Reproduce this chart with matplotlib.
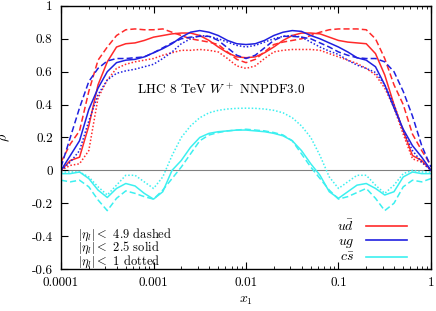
import numpy as np
import matplotlib
matplotlib.use("Agg")
import matplotlib.pyplot as plt
from matplotlib.lines import Line2D

plt.rcParams['font.family'] = 'serif'
plt.rcParams['font.serif'] = ['cmr10']
plt.rcParams['mathtext.fontset'] = 'cm'
plt.rcParams['axes.formatter.use_mathtext'] = True

# log10(x1) grid the values were read at
logx = [-4.0, -3.9, -3.8, -3.7, -3.6, -3.5, -3.4, -3.3, -3.2, -3.1, -3.0,
        -2.9, -2.8, -2.7, -2.6, -2.5, -2.4, -2.3, -2.2, -2.1, -2.0,
        -1.9, -1.8, -1.7, -1.6, -1.5, -1.4, -1.3, -1.2, -1.1, -1.0,
        -0.9, -0.8, -0.7, -0.6, -0.5, -0.4, -0.3, -0.2, -0.1, 0.0]

# u dbar
ud_dashed = [0.05, 0.16, 0.24, 0.48, 0.67, 0.75, 0.82, 0.855, 0.86, 0.855, 0.855,
             0.86, 0.84, 0.82, 0.80, 0.79, 0.78, 0.765, 0.72, 0.675, 0.655,
             0.675, 0.72, 0.765, 0.78, 0.79, 0.80, 0.82, 0.84, 0.855, 0.86,
             0.86, 0.86, 0.855, 0.80, 0.68, 0.52, 0.40, 0.22, 0.12, 0.03]
ud_solid = [0.0, 0.06, 0.08, 0.27, 0.52, 0.66, 0.75, 0.77, 0.775, 0.79, 0.81,
            0.82, 0.83, 0.835, 0.835, 0.82, 0.79, 0.75, 0.715, 0.69, 0.685,
            0.69, 0.715, 0.75, 0.79, 0.82, 0.835, 0.835, 0.83, 0.81, 0.79,
            0.78, 0.775, 0.77, 0.71, 0.58, 0.40, 0.24, 0.09, 0.06, 0.0]
ud_dotted = [0.0, 0.03, 0.04, 0.12, 0.44, 0.55, 0.62, 0.645, 0.66, 0.67, 0.68,
             0.70, 0.715, 0.73, 0.73, 0.735, 0.73, 0.72, 0.68, 0.635, 0.62,
             0.635, 0.68, 0.72, 0.73, 0.735, 0.735, 0.735, 0.73, 0.71, 0.69,
             0.67, 0.65, 0.62, 0.58, 0.50, 0.38, 0.22, 0.07, 0.05, 0.0]

# u g
ug_dashed = [0.02, 0.20, 0.38, 0.54, 0.62, 0.665, 0.68, 0.68, 0.685, 0.69, 0.715,
             0.745, 0.775, 0.80, 0.81, 0.815, 0.815, 0.79, 0.745, 0.70, 0.68,
             0.70, 0.745, 0.79, 0.815, 0.815, 0.81, 0.80, 0.775, 0.75, 0.72,
             0.70, 0.685, 0.68, 0.68, 0.66, 0.60, 0.48, 0.33, 0.15, 0.02]
ug_solid = [0.0, 0.09, 0.18, 0.37, 0.50, 0.60, 0.655, 0.67, 0.675, 0.69, 0.715,
            0.74, 0.77, 0.81, 0.84, 0.85, 0.84, 0.82, 0.79, 0.77, 0.765,
            0.77, 0.79, 0.82, 0.84, 0.85, 0.845, 0.82, 0.80, 0.775, 0.75,
            0.72, 0.685, 0.67, 0.63, 0.52, 0.38, 0.25, 0.15, 0.08, 0.0]
ug_dotted = [0.0, 0.05, 0.12, 0.30, 0.46, 0.55, 0.59, 0.605, 0.615, 0.63, 0.645,
             0.68, 0.72, 0.77, 0.80, 0.82, 0.815, 0.80, 0.78, 0.76, 0.75,
             0.76, 0.78, 0.80, 0.815, 0.82, 0.81, 0.78, 0.75, 0.725, 0.705,
             0.67, 0.64, 0.62, 0.595, 0.52, 0.40, 0.24, 0.12, 0.05, 0.0]

# c sbar
cs_dashed = [-0.06, -0.07, -0.06, -0.10, -0.18, -0.245, -0.17, -0.125, -0.14, -0.16, -0.175,
             -0.12, -0.05, 0.02, 0.10, 0.18, 0.215, 0.23, 0.24, 0.245, 0.25,
             0.245, 0.24, 0.23, 0.215, 0.18, 0.10, 0.02, -0.05, -0.12, -0.175,
             -0.16, -0.135, -0.11, -0.17, -0.245, -0.20, -0.10, -0.06, -0.07, -0.05]
cs_solid = [-0.02, -0.02, -0.01, -0.05, -0.12, -0.165, -0.11, -0.08, -0.095, -0.14, -0.175,
            -0.13, 0.0, 0.06, 0.14, 0.20, 0.225, 0.235, 0.24, 0.245, 0.245,
            0.24, 0.235, 0.225, 0.21, 0.18, 0.12, 0.04, -0.03, -0.13, -0.17,
            -0.13, -0.09, -0.08, -0.11, -0.15, -0.13, -0.04, -0.01, -0.02, -0.02]
cs_dotted = [-0.01, -0.01, -0.01, -0.04, -0.10, -0.15, -0.09, -0.03, -0.03, -0.07, -0.11,
             -0.04, 0.09, 0.20, 0.27, 0.32, 0.35, 0.365, 0.373, 0.377, 0.378,
             0.377, 0.373, 0.365, 0.35, 0.32, 0.27, 0.20, 0.09, -0.04, -0.11,
             -0.07, -0.03, -0.03, -0.09, -0.14, -0.09, -0.02, 0.0, -0.01, -0.01]

x_ticks = [0.0001, 0.001, 0.01, 0.1, 1]
x_labels = ['0.0001', '0.001', '0.01', '0.1', '1']
y_ticks = [-0.6, -0.4, -0.2, 0, 0.2, 0.4, 0.6, 0.8, 1]
y_labels = ['-0.6', '-0.4', '-0.2', '0', '0.2', '0.4', '0.6', '0.8', '1']

red = '#ff2a2a'
blue = '#2020e0'
cyan = '#3cf0f0'
dash = (0, (4, 2))
dot = (0, (1, 1.3))

x = 10 ** np.array(logx)

fig = plt.figure(figsize=(4.36, 3.11), dpi=100)
ax = fig.add_axes([0.140, 0.135, 0.8485, 0.846])

ax.axhline(0, color='#808080', lw=0.8, zorder=1)

series = [
    (ud_dashed, red, dash), (ud_solid, red, '-'), (ud_dotted, red, dot),
    (ug_dashed, blue, dash), (ug_solid, blue, '-'), (ug_dotted, blue, dot),
    (cs_dashed, cyan, dash), (cs_solid, cyan, '-'), (cs_dotted, cyan, dot),
]
for vals, col, ls in series:
    ax.plot(x, vals, color=col, ls=ls, lw=1.1, zorder=2)

ax.set_xscale('log')
ax.set_xlim(1e-4, 1)
ax.set_ylim(-0.6, 1)
ax.set_xticks(x_ticks)
ax.set_xticklabels(x_labels)
ax.set_yticks(y_ticks)
ax.set_yticklabels(y_labels)
ax.tick_params(which='both', direction='in', top=True, right=True, labelsize=9.5, pad=6)
ax.tick_params(which='major', length=5)
ax.tick_params(which='minor', length=2.5)
for s in ax.spines.values():
    s.set_linewidth(1.0)

ax.set_xlabel('$x_1$', fontsize=10)
ax.set_ylabel(r'$\rho$', fontsize=10, labelpad=14)

ax.text(10 ** -3.18, 0.49, r'LHC 8 TeV $W^+$ NNPDF3.0', fontsize=9.5, va='center')

# rapidity cut notes, bottom left (stacked tight, bars touch as in the original)
notes = [r'$|\eta_l|<$ 4.9 dashed', r'$|\eta_l|<$ 2.5 solid', r'$|\eta_l|<$ 1 dotted']
for i, t in enumerate(notes):
    ax.text(0.045, 0.13 - i * 0.051, t, transform=ax.transAxes, fontsize=9, va='center')

handles = [Line2D([], [], color=red, lw=1.2),
           Line2D([], [], color=blue, lw=1.2),
           Line2D([], [], color=cyan, lw=1.2)]
ax.legend(handles, [r'$u\bar{d}$', r'$ug$', r'$c\bar{s}$'], loc='lower right',
          bbox_to_anchor=(0.97, -0.03), frameon=False, markerfirst=False,
          fontsize=10, handlelength=3.0, labelspacing=0.1, handletextpad=0.8)

fig.savefig('out.png', dpi=100)
